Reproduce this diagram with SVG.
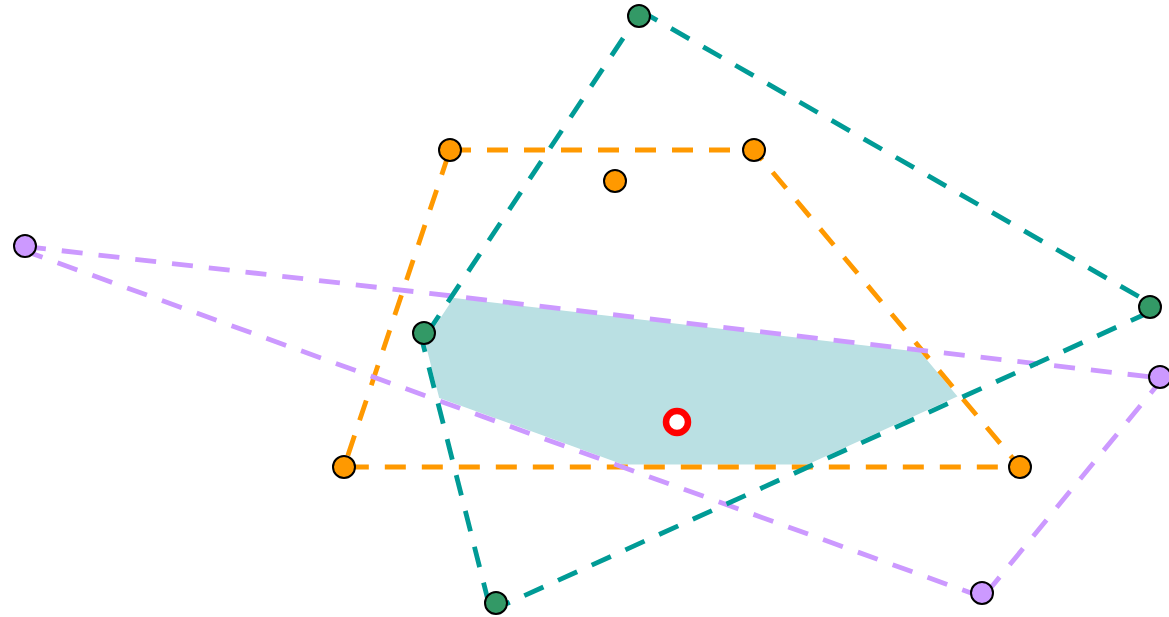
<svg xmlns="http://www.w3.org/2000/svg" width="1169" height="617" viewBox="0 0 1169 617">
<style>
.edge{fill:none;stroke-width:4.8;stroke-dasharray:21 16;stroke-linecap:butt}
.orange{stroke:#ff9900}
.purple{stroke:#cc99ff}
.teal{stroke:#009b96}
.v{stroke:#000;stroke-width:2}
.vo{fill:#ff9900}
.vp{fill:#cc99ff}
.vg{fill:#339966}
</style>
<rect width="1169" height="617" fill="#ffffff"/>
<g id="region">
<polygon points="452.4,295.3 921.4,349.5 961.6,397.4 808.1,467 622.7,467 437.1,399.9 422.2,340.9" fill="#bae0e3" stroke="#ffffff" stroke-width="5" stroke-linejoin="miter"/>
</g>
<g id="connectors">
<path class="edge orange" d="M450,150 L754,150 L1020,467 L344,467 Z"/>
<path class="edge purple" d="M25,246.5 L1160,378"/>
<path class="edge purple" d="M1164,377 L986.5,593"/>
<path class="edge purple" d="M982,597 L25,251"/>
<path class="edge teal" d="M639,10 L1150,303"/>
<path class="edge teal" d="M1150,312 L496,608.5"/>
<path class="edge teal" d="M488.7,603 L420.2,333"/>
<path class="edge teal" d="M427.4,333 L637.8,16"/>
</g>
<g id="o1"><circle class="v vo" cx="450" cy="150" r="11"/></g>
<g id="o2"><circle class="v vo" cx="754" cy="150" r="11"/></g>
<g id="o3"><circle class="v vo" cx="1020" cy="467" r="11"/></g>
<g id="o4"><circle class="v vo" cx="344" cy="467" r="11"/></g>
<g id="o5"><circle class="v vo" cx="615" cy="181" r="11"/></g>
<g id="p1"><circle class="v vp" cx="25" cy="246" r="11"/></g>
<g id="p2"><circle class="v vp" cx="1160" cy="377" r="11"/></g>
<g id="p3"><circle class="v vp" cx="982" cy="593" r="11"/></g>
<g id="g1"><circle class="v vg" cx="639" cy="16" r="11"/></g>
<g id="g2"><circle class="v vg" cx="1150" cy="307" r="11"/></g>
<g id="g3"><circle class="v vg" cx="496" cy="603" r="11"/></g>
<g id="g4"><circle class="v vg" cx="424" cy="333" r="11"/></g>
<g id="target"><circle cx="677" cy="422" r="11" fill="#ffffff" stroke="#ff0000" stroke-width="6.5"/></g>
</svg>
